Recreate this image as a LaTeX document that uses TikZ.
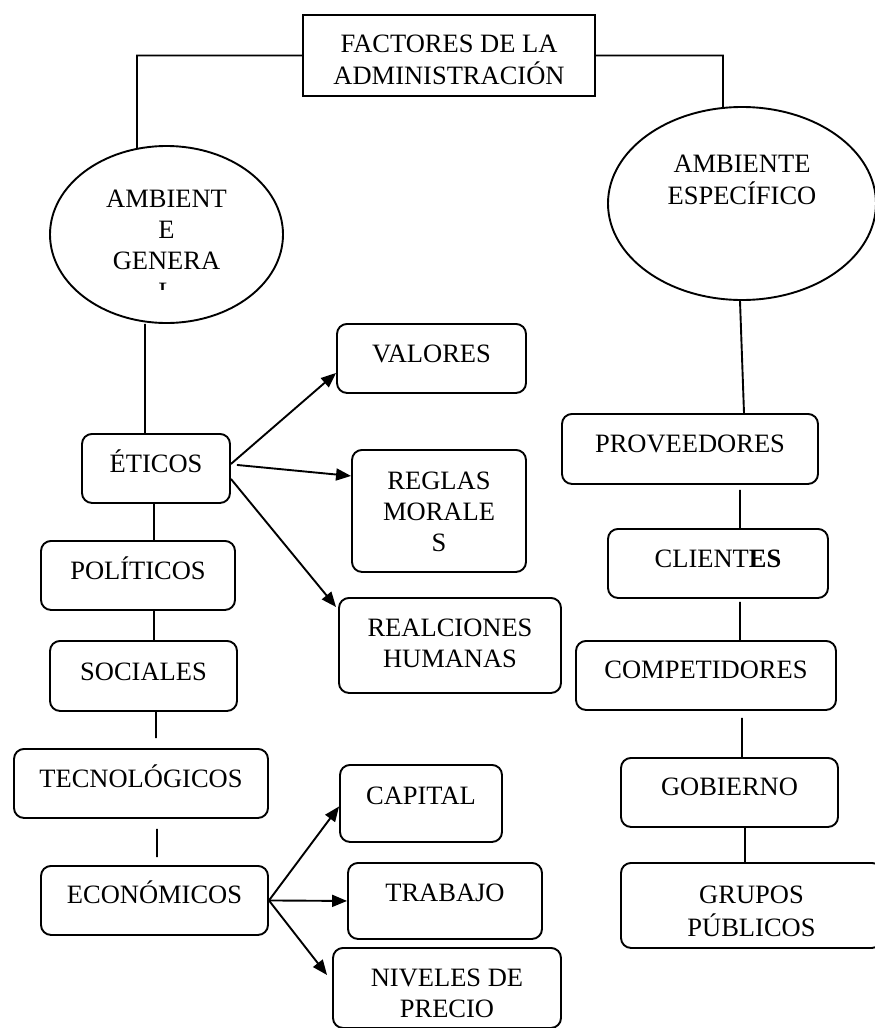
\documentclass[tikz,border=0pt]{standalone}
\usepackage{fontspec}
\setmainfont{Liberation Serif}
\usetikzlibrary{arrows.meta,shapes.geometric}

\newcommand{\lineas}[1]{\begin{tabular}[t]{@{}c@{}}#1\end{tabular}}

\begin{document}
\begin{tikzpicture}[x=1pt, y=-1pt, line width=1.9pt,
        font=\fontsize{26.5}{31}\selectfont,
        caja/.style={draw, rounded corners=10pt, inner sep=0pt, anchor=north,
            text height=39pt, text depth=30pt},
        flecha/.style={-{Triangle[length=15pt, width=12pt]}}]
            \useasboundingbox (0,0) rectangle (875,1028);

            \path
                (449,14) node (fac) [draw, inner sep=0pt, anchor=north, minimum width=292pt,
                    text height=38pt, text depth=43pt] {\lineas{FACTORES DE LA\\ADMINISTRACIÓN}}

                (166.5,234.5) node (ambgen) [draw, ellipse, inner sep=0pt,
                    minimum width=233pt, minimum height=177pt] {}
                (742,203.5) node (ambesp) [draw, ellipse, inner sep=0pt,
                    minimum width=268pt, minimum height=193pt,
                    text height=20pt, text depth=83pt] {\lineas{AMBIENTE\\ESPECÍFICO}}

                (431.5,323) node (valores) [caja, minimum width=189pt] {VALORES}
                (156,433) node (eticos) [caja, minimum width=148pt] {ÉTICOS}
                (439,449) node (reglas) [caja, minimum width=174pt,
                    text height=40pt, text depth=82pt] {\lineas{REGLAS\\MORALE\\S}}
                (450,597) node (realciones) [caja, minimum width=222pt,
                    text depth=56pt] {\lineas{REALCIONES\\HUMANAS}}
                (138,540) node (politicos) [caja, minimum width=194pt] {POLÍTICOS}
                (143.5,640) node (sociales) [caja, minimum width=187pt, text height=40pt] {SOCIALES}
                (141,748) node (tecnologicos) [caja, minimum width=254pt] {TECNOLÓGICOS}
                (154.5,865) node (economicos) [caja, minimum width=227pt,
                    text height=38pt, text depth=31pt] {ECONÓMICOS}
                (421,764) node (capital) [caja, minimum width=162pt,
                    text height=40pt, text depth=37pt] {CAPITAL}
                (445,862) node (trabajo) [caja, minimum width=194pt, text depth=37pt] {TRABAJO}
                (447,947) node (niveles) [caja, minimum width=228pt,
                    text depth=41pt] {\lineas{NIVELES DE\\PRECIO}}

                (690,413) node (proveedores) [caja, minimum width=256pt, text depth=31pt] {PROVEEDORES}
                (718,528) node (clientes) [caja, minimum width=220pt] {CLIENT\textbf{ES}}
                (706,640) node (competidores) [caja, minimum width=260pt,
                    text height=38pt, text depth=31pt] {COMPETIDORES}
                (729.5,757) node (gobierno) [caja, minimum width=217pt,
                    text height=38pt, text depth=31pt] {GOBIERNO}
                (751.5,862) node (grupos) [caja, minimum width=261pt,
                    text height=41pt, text depth=44pt] {\lineas{GRUPOS\\PÚBLICOS}}
            ;

            % texto recortado del ambiente general
            \begin{scope}
                \clip (0,0) rectangle (875,289);
                \node (ambgentxt) [anchor=base] at (166.5,207) {\lineas{AMBIENT\\E\\GENERA\\L}};
            \end{scope}

            \draw
                (fac.west) -| ([xshift=-29.5pt, yshift=-3pt]ambgen.north)
                (fac.east) -| ([xshift=-19pt, yshift=-1pt]ambesp.north)

                ([xshift=-21.5pt]ambgen.south) -- ([xshift=-11pt]eticos.north)
                ([xshift=-2pt]eticos.south) -- ([xshift=16pt]politicos.north)
                ([xshift=16pt]politicos.south) -- ([xshift=10.5pt]sociales.north)
                ([xshift=12.5pt]sociales.south) -- ([xshift=15pt, yshift=10pt]tecnologicos.north)
                ([xshift=16pt, yshift=-10pt]tecnologicos.south) -- ([xshift=2.5pt, yshift=8pt]economicos.north)

                ([xshift=-2pt]ambesp.south) -- ([xshift=54pt]proveedores.north)
                ([xshift=50pt, yshift=-5pt]proveedores.south) -- ([xshift=22pt]clientes.north)
                ([xshift=22pt, yshift=-3pt]clientes.south) -- ([xshift=34pt]competidores.north)
                ([xshift=36pt, yshift=-7pt]competidores.south) -- ([xshift=12.5pt]gobierno.north)
                ([xshift=15.5pt]gobierno.south) -- ([xshift=-6.5pt]grupos.north)
            ;

            \draw[flecha] ([yshift=4.5pt]eticos.east) -- ([yshift=-14.5pt]valores.west);
            \draw[flecha] ([xshift=6pt, yshift=3.5pt]eticos.east) -- ([yshift=35pt]reglas.west);
            \draw[flecha] ([yshift=-10.5pt]eticos.east) -- ([xshift=-2pt, yshift=-10pt]realciones.north west);

            \draw[flecha] (economicos.east) -- ([yshift=-3pt]capital.west);
            \draw[flecha] (economicos.east) -- (trabajo.west);
            \draw[flecha] (economicos.east) -- ([xshift=-5pt, yshift=-28pt]niveles.north west);

        \end{tikzpicture}
\end{document}
